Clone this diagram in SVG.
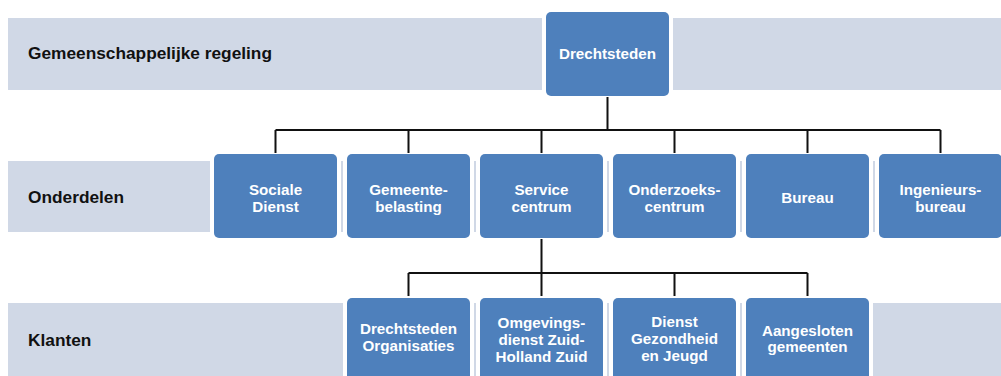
<svg xmlns="http://www.w3.org/2000/svg" width="1001" height="376" viewBox="0 0 1001 376">
<style>
.band{fill:#D0D8E6}
.lbl{font-family:"Liberation Sans",Arial,sans-serif;font-weight:bold;font-size:17.3px;fill:#111}
.box{fill:#4E80BC;stroke:#fff;stroke-width:8;paint-order:stroke}
.t{font-family:"Liberation Sans",Arial,sans-serif;font-weight:bold;font-size:15.2px;fill:#fff;text-anchor:middle}
.c{stroke:#111;stroke-width:2;fill:none}
</style>
<rect width="1001" height="376" fill="#fff"/>
<g id="bands">
<rect class="band" x="8" y="18" width="993" height="72"/>
<rect class="band" x="8" y="161" width="993" height="71"/>
<rect class="band" x="8" y="303" width="993" height="73"/>
<text class="lbl" x="28" y="59">Gemeenschappelijke regeling</text>
<text class="lbl" x="28" y="203">Onderdelen</text>
<text class="lbl" x="28" y="346">Klanten</text>
</g>
<g id="drechtsteden"><rect class="box" x="546" y="12" width="123" height="84" rx="5"/><text class="t" x="607.5" y="59">Drechtsteden</text></g>
<g id="sociale-dienst"><rect class="box" x="214" y="154" width="123" height="84" rx="5"/><text class="t" x="275.5" y="195">Sociale</text><text class="t" x="275.5" y="212">Dienst</text></g>
<g id="gemeentebelasting"><rect class="box" x="347" y="154" width="123" height="84" rx="5"/><text class="t" x="408.5" y="195">Gemeente-</text><text class="t" x="408.5" y="212">belasting</text></g>
<g id="service-centrum"><rect class="box" x="480" y="154" width="123" height="84" rx="5"/><text class="t" x="541.5" y="195">Service</text><text class="t" x="541.5" y="212">centrum</text></g>
<g id="onderzoekscentrum"><rect class="box" x="613" y="154" width="123" height="84" rx="5"/><text class="t" x="674.5" y="195">Onderzoeks-</text><text class="t" x="674.5" y="212">centrum</text></g>
<g id="bureau"><rect class="box" x="746" y="154" width="123" height="84" rx="5"/><text class="t" x="807.5" y="203">Bureau</text></g>
<g id="ingenieursbureau"><rect class="box" x="879" y="154" width="123" height="84" rx="5"/><text class="t" x="940.5" y="195">Ingenieurs-</text><text class="t" x="940.5" y="212">bureau</text></g>
<g id="drechtsteden-organisaties"><rect class="box" x="347" y="298" width="123" height="84" rx="5"/><text class="t" x="408.5" y="334">Drechtsteden</text><text class="t" x="408.5" y="351">Organisaties</text></g>
<g id="omgevingsdienst"><rect class="box" x="480" y="298" width="123" height="84" rx="5"/><text class="t" x="541.5" y="328">Omgevings-</text><text class="t" x="541.5" y="345">dienst Zuid-</text><text class="t" x="541.5" y="362">Holland Zuid</text></g>
<g id="dienst-gezondheid"><rect class="box" x="613" y="298" width="123" height="84" rx="5"/><text class="t" x="674.5" y="327">Dienst</text><text class="t" x="674.5" y="344">Gezondheid</text><text class="t" x="674.5" y="361">en Jeugd</text></g>
<g id="aangesloten-gemeenten"><rect class="box" x="746" y="298" width="123" height="84" rx="5"/><text class="t" x="807.5" y="336">Aangesloten</text><text class="t" x="807.5" y="352">gemeenten</text></g>
<g id="connectors">
<path class="c" d="M607.5 97V130M275.5 130H940.5M275.5 130V153M408.5 130V153M541.5 130V153M674.5 130V153M807.5 130V153M940.5 130V153"/>
<path class="c" d="M541.5 239V273M408.5 273H807.5M408.5 273V296M541.5 273V296M674.5 273V296M807.5 273V296"/>
</g>
</svg>
